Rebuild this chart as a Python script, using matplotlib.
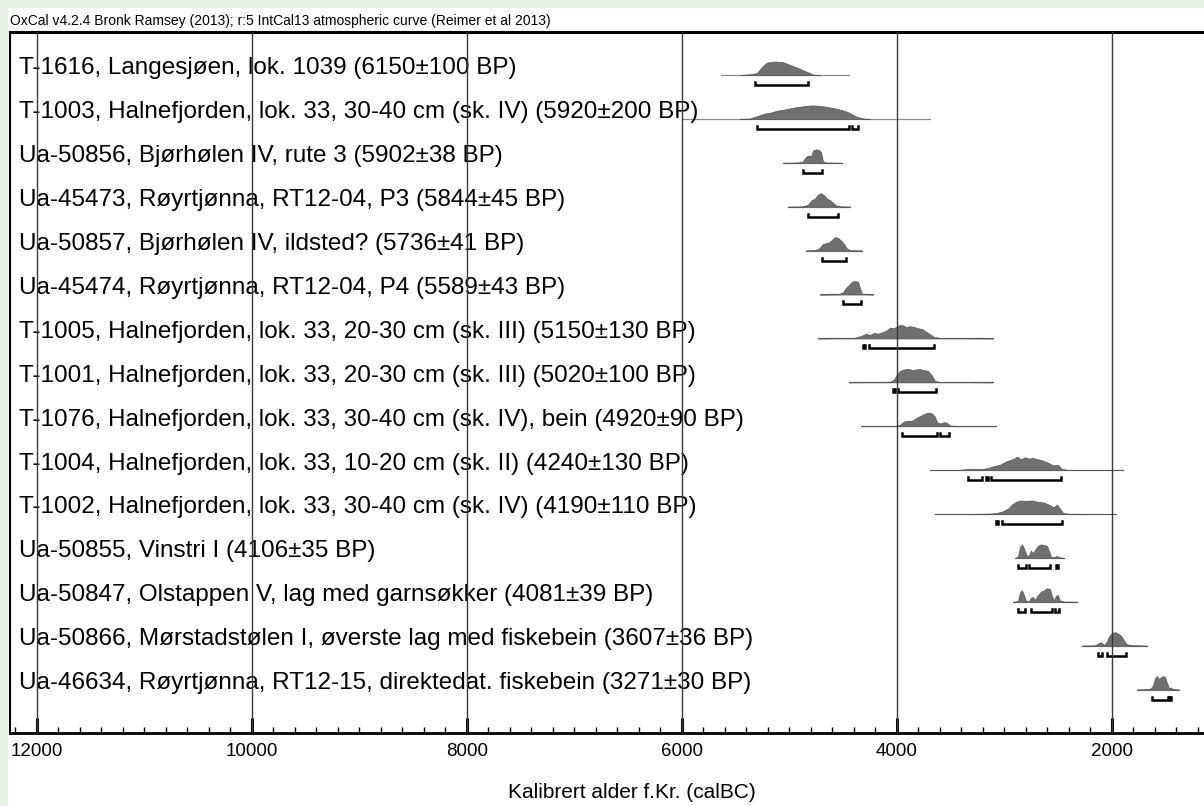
import matplotlib
matplotlib.use("Agg")
import matplotlib.pyplot as plt
from matplotlib.patches import Rectangle
from matplotlib.ticker import MultipleLocator

plt.rcParams['font.family'] = ['Liberation Sans', 'DejaVu Sans']

# Sample labels, top to bottom
labels = [
    "T-1616, Langesjøen, lok. 1039 (6150±100 BP)",
    "T-1003, Halnefjorden, lok. 33, 30-40 cm (sk. IV) (5920±200 BP)",
    "Ua-50856, Bjørhølen IV, rute 3 (5902±38 BP)",
    "Ua-45473, Røyrtjønna, RT12-04, P3 (5844±45 BP)",
    "Ua-50857, Bjørhølen IV, ildsted? (5736±41 BP)",
    "Ua-45474, Røyrtjønna, RT12-04, P4 (5589±43 BP)",
    "T-1005, Halnefjorden, lok. 33, 20-30 cm (sk. III) (5150±130 BP)",
    "T-1001, Halnefjorden, lok. 33, 20-30 cm (sk. III) (5020±100 BP)",
    "T-1076, Halnefjorden, lok. 33, 30-40 cm (sk. IV), bein (4920±90 BP)",
    "T-1004, Halnefjorden, lok. 33, 10-20 cm (sk. II) (4240±130 BP)",
    "T-1002, Halnefjorden, lok. 33, 30-40 cm (sk. IV) (4190±110 BP)",
    "Ua-50855, Vinstri I (4106±35 BP)",
    "Ua-50847, Olstappen V, lag med garnsøkker (4081±39 BP)",
    "Ua-50866, Mørstadstølen I, øverste lag med fiskebein (3607±36 BP)",
    "Ua-46634, Røyrtjønna, RT12-15, direktedat. fiskebein (3271±30 BP)",
]

# extent of the thin line under each distribution (calBC)
curve_span = [(5637, 4447), (5990, 3693), (5061, 4512), (5014, 4437),
              (4847, 4326), (4717, 4224), (4735, 3107), (4447, 3107),
              (4335, 3079), (3693, 1898), (3647, 1963), (2903, 2447),
              (2921, 2326), (2280, 1675), (1768, 1377)]

# calibrated probability (relative to max)
dens_years = [
    [5460, 5367, 5302, 5256, 5209, 5170, 5135, 5060, 4995, 4930, 4874, 4828, 4781, 4716],
    [5461, 5368, 5303, 5228, 5182, 5117, 5042, 4949, 4856, 4791, 4717, 4642, 4577, 4512, 4456, 4409, 4363, 4307, 4251],
    [5061, 4921, 4875, 4847, 4819, 4800, 4782, 4754, 4726, 4707, 4689, 4661, 4512],
    [5014, 4875, 4828, 4791, 4763, 4735, 4707, 4679, 4651, 4624, 4596, 4568, 4531, 4437],
    [4847, 4763, 4726, 4689, 4661, 4633, 4605, 4577, 4549, 4521, 4493, 4466, 4437, 4326],
    [4717, 4549, 4503, 4475, 4447, 4419, 4391, 4363, 4345, 4326, 4224],
    [4735, 4530, 4391, 4326, 4289, 4252, 4214, 4177, 4140, 4103, 4065, 4028, 3991, 3954,
     3917, 3879, 3842, 3805, 3768, 3730, 3693, 3656, 3600, 3107],
    [4447, 4158, 4065, 4028, 4000, 3972, 3935, 3898, 3861, 3824, 3786, 3749, 3712, 3675,
     3647, 3600, 3554, 3107],
    [4335, 4019, 3972, 3935, 3898, 3861, 3824, 3786, 3749, 3712, 3675, 3647, 3628, 3600,
     3563, 3535, 3507, 3433, 3386, 3079],
    [3693, 3414, 3340, 3275, 3210, 3154, 3098, 3042, 2996, 2949, 2912, 2884, 2847, 2810,
     2772, 2735, 2689, 2642, 2596, 2549, 2503, 2466, 2410, 1898],
    [3647, 3321, 3135, 3070, 3014, 2967, 2930, 2893, 2856, 2800, 2744, 2689, 2633, 2577,
     2540, 2512, 2484, 2456, 2410, 1963],
    [2903, 2875, 2856, 2837, 2819, 2791, 2772, 2754, 2735, 2716, 2689, 2661, 2633, 2605,
     2586, 2568, 2540, 2512, 2494, 2447],
    [2921, 2875, 2856, 2837, 2819, 2800, 2772, 2754, 2735, 2716, 2689, 2661, 2633, 2605,
     2577, 2558, 2540, 2521, 2503, 2484, 2447, 2326],
    [2280, 2159, 2121, 2103, 2075, 2047, 2028, 2000, 1972, 1945, 1917, 1889, 1870, 1833, 1675],
    [1768, 1647, 1619, 1600, 1582, 1563, 1544, 1526, 1507, 1489, 1470, 1452, 1433, 1377],
]
dens_vals = [
    [0, 0.05, 0.15, 0.6, 0.92, 0.97, 1.0, 0.95, 0.75, 0.55, 0.35, 0.2, 0.03, 0],
    [0, 0.03, 0.2, 0.4, 0.45, 0.6, 0.7, 0.85, 0.95, 1.0, 0.97, 0.88, 0.78, 0.65, 0.5, 0.3, 0.12, 0.03, 0],
    [0, 0.02, 0.1, 0.45, 0.55, 0.45, 0.9, 1.0, 0.95, 0.8, 0.1, 0.02, 0],
    [0, 0.02, 0.15, 0.5, 0.6, 0.9, 1.0, 0.85, 0.6, 0.5, 0.3, 0.1, 0.02, 0],
    [0, 0.03, 0.15, 0.5, 0.55, 0.6, 0.8, 1.0, 0.95, 0.75, 0.5, 0.15, 0.02, 0],
    [0, 0.02, 0.15, 0.5, 0.7, 0.95, 1.0, 0.95, 0.5, 0.05, 0],
    [0, 0.02, 0.05, 0.2, 0.35, 0.25, 0.4, 0.35, 0.45, 0.55, 0.8, 0.75, 0.95, 1.0,
     0.85, 0.9, 0.85, 0.75, 0.7, 0.5, 0.3, 0.12, 0.03, 0],
    [0, 0.02, 0.05, 0.2, 0.6, 0.85, 0.95, 1.0, 0.92, 0.95, 0.98, 0.9, 0.85, 0.5,
     0.1, 0.03, 0.02, 0],
    [0, 0.02, 0.1, 0.35, 0.4, 0.4, 0.6, 0.75, 0.9, 1.0, 0.95, 0.7, 0.3, 0.2,
     0.3, 0.25, 0.05, 0.02, 0.01, 0],
    [0, 0.02, 0.08, 0.1, 0.08, 0.15, 0.3, 0.4, 0.6, 0.75, 0.85, 1.0, 0.8, 0.95,
     0.85, 0.9, 0.8, 0.7, 0.55, 0.35, 0.4, 0.08, 0.02, 0],
    [0, 0.01, 0.03, 0.08, 0.2, 0.4, 0.7, 0.9, 1.0, 0.98, 1.0, 0.9, 0.85, 0.65,
     0.5, 0.7, 0.4, 0.08, 0.02, 0],
    [0, 0.1, 0.8, 1.0, 0.7, 0.15, 0.2, 0.55, 0.35, 0.6, 0.9, 1.0, 0.95, 0.9,
     0.5, 0.1, 0.05, 0.15, 0.05, 0],
    [0, 0.05, 0.7, 0.85, 0.5, 0.08, 0.05, 0.3, 0.35, 0.15, 0.5, 0.75, 0.85, 1.0,
     0.95, 0.4, 0.1, 0.45, 0.5, 0.08, 0.02, 0],
    [0, 0.02, 0.2, 0.25, 0.05, 0.3, 0.7, 0.95, 1.0, 0.9, 0.75, 0.4, 0.15, 0.04, 0],
    [0, 0.03, 0.3, 0.85, 1.0, 0.8, 0.9, 1.0, 0.95, 0.5, 0.12, 0.15, 0.03, 0],
]

# 95.4% ranges (calBC)
ranges = [
    [(5321, 4828)],
    [(5303, 4447), (4419, 4363)],
    [(4875, 4698)],
    [(4828, 4549)],
    [(4698, 4475)],
    [(4503, 4335)],
    [(4320, 4295), (4261, 3656)],
    [(4035, 4015), (3991, 3637)],
    [(3954, 3628), (3600, 3516)],
    [(3340, 3210), (3170, 3150), (3126, 2475)],
    [(3078, 3060), (3024, 2466)],
    [(2875, 2800), (2772, 2577), (2520, 2502)],
    [(2875, 2810), (2754, 2558), (2530, 2493)],
    [(2130, 2093), (2047, 1870)],
    [(1628, 1480), (1468, 1452)],
]

header = "OxCal v4.2.4 Bronk Ramsey (2013); r:5 IntCal13 atmospheric curve (Reimer et al 2013)"
xlabel = "Kalibrert alder f.Kr. (calBC)"
major_ticks = [12000, 10000, 8000, 6000, 4000, 2000]

W, H = 1204, 806
fig = plt.figure(figsize=(W / 100, H / 100), dpi=100)
fig.patch.set_facecolor('#e5f2e4')
fig.add_artist(Rectangle((8 / W, 0), 1, (H - 8) / H, transform=fig.transFigure,
                         facecolor='white', edgecolor='none', zorder=-1))

left, right, top, bottom = 10, 1204, 32, 733
ax = fig.add_axes([left / W, 1 - bottom / H, (right - left) / W, (bottom - top) / H])
ax.set_xlim(12251, 1144)
row_px = 43.9
ax.set_ylim((bottom - 75) / row_px, (top - 75) / row_px)

peak = 13.5 / row_px
brk = 10 / row_px
tick_up = 3 / row_px

for i, lab in enumerate(labels):
    ax.text(0.0075, i - 0.15, lab, transform=ax.get_yaxis_transform(),
            fontsize=17.5, va='center', ha='left', zorder=4)
    s, e = curve_span[i]
    ax.plot([s, e], [i, i], color='#8c8c8c', lw=0.9, zorder=2)
    ax.fill_between(dens_years[i], i, [i - v * peak for v in dens_vals[i]],
                    facecolor='#707070', edgecolor='#555555', lw=0.5, zorder=2)
    yb = i + brk
    for a, b in ranges[i]:
        ax.plot([a, a, b, b], [yb - tick_up, yb, yb, yb - tick_up],
                color='black', lw=1.8, solid_joinstyle='miter', zorder=3)

for t in major_ticks:
    ax.axvline(t, color='#3a3a3a', lw=1.0, zorder=5)

ax.set_xticks(major_ticks)
ax.set_xticklabels([str(t) for t in major_ticks])
ax.xaxis.set_minor_locator(MultipleLocator(200))
ax.tick_params(axis='x', which='major', direction='in', length=11, width=2.2,
               labelsize=13.5, pad=7)
ax.tick_params(axis='x', which='minor', direction='in', length=4.5, width=1)
ax.set_yticks([])

ax.spines['right'].set_visible(False)
ax.spines['top'].set_linewidth(2.2)
ax.spines['bottom'].set_linewidth(2.0)
ax.spines['left'].set_linewidth(1.5)

fig.text(10 / W, 1 - 21 / H, header, fontsize=10, va='center', ha='left')
fig.text(0.525, 1 - 793 / H, xlabel, fontsize=15, va='center', ha='center')

fig.savefig('out.png', dpi=100)
